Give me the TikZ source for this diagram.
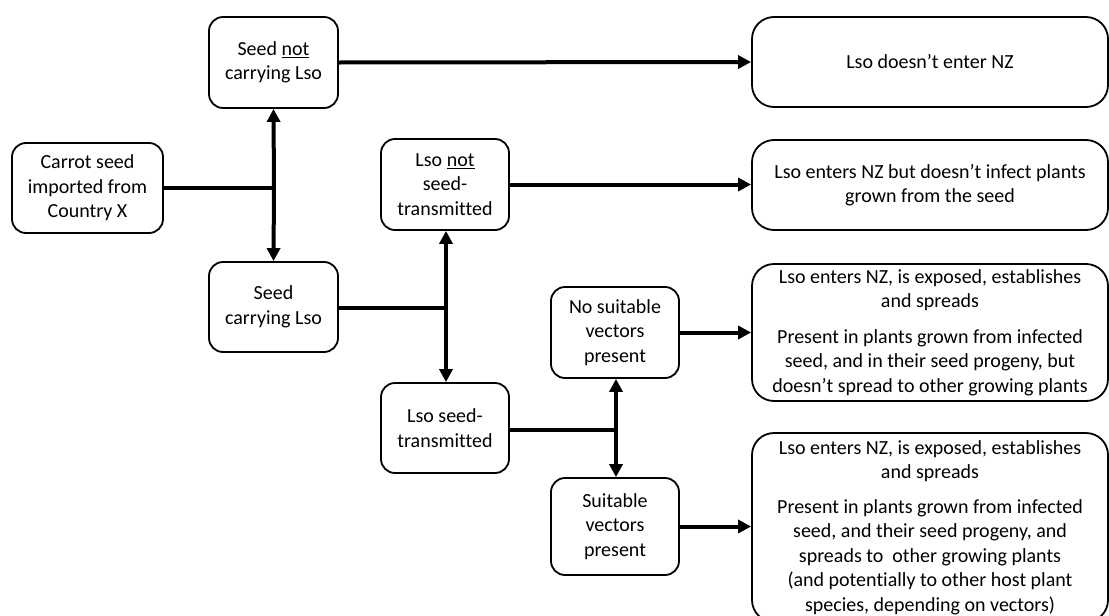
\documentclass[tikz,border=0pt]{standalone}
\usepackage{fontspec}
\setmainfont{Carlito}[Ligatures=NoCommon]
\usetikzlibrary{arrows.meta}
\begin{document}
\begin{tikzpicture}[x=1pt,y=-1pt,
  box/.style={draw, line width=1.8pt, rounded corners=14pt, inner sep=0pt, align=center,
    font=\fontsize{20}{24.5}\selectfont},
  bigbox/.style={box, rounded corners=22pt, minimum width=356pt},
  conn/.style={line width=4pt},
  arr/.style={line width=4pt, -{Triangle[length=13pt,width=13pt]}}]
\useasboundingbox (0,0) rectangle (1109,616);
\fill[white] (0,0) rectangle (1109,616);
% left column
\node[box, minimum width=151pt, minimum height=90pt] (carrot) at (87.5,188) {Carrot seed\\imported from\\Country X};
\node[box, minimum width=129pt, minimum height=91pt] (snc) at (273.5,62.5) {Seed \underline{not}\\carrying Lso};
\node[box, minimum width=129pt, minimum height=90pt] (sc) at (273.5,307) {Seed\\carrying Lso};
% middle column
\node[box, minimum width=128pt, minimum height=91pt] (lns) at (445,184.5) {Lso \underline{not}\\seed-\\transmitted};
\node[box, minimum width=128pt, minimum height=90pt] (lst) at (445,428) {Lso seed-\\transmitted};
% vectors column
\node[box, minimum width=128pt, minimum height=91pt] (nsv) at (615,332.5) {No suitable\\vectors\\present};
\node[box, minimum width=128pt, minimum height=97pt] (sv) at (615,526.5) {Suitable\\vectors\\present};
% outcomes
\node[bigbox, minimum height=90pt] (o1) at (930,62) {Lso doesn’t enter NZ};
\node[bigbox, minimum height=90pt] (o2) at (930,185) {Lso enters NZ but doesn’t infect plants\\grown from the seed};
\node[bigbox, minimum height=137pt] (o3) at (930,332.5) {Lso enters NZ, is exposed, establishes\\and spreads\\[11pt]Present in plants grown from infected\\seed, and in their seed progeny, but\\doesn’t spread to other growing plants};
\node[bigbox, minimum height=189pt] (o4) at (930,527.5) {Lso enters NZ, is exposed, establishes\\and spreads\\[10pt]Present in plants grown from infected\\seed, and their seed progeny, and\\spreads to\ \ other growing plants\\(and potentially to other host plant\\species, depending on vectors)};
% junctions
\coordinate (j1) at (274,188);
\coordinate (j2) at (446,308);
\coordinate (j3) at (616,430);
% connectors
\draw[conn] (carrot.east) -- (j1);
\draw[arr] (j1) -- (snc.south);
\draw[arr] (j1) -- (sc.north);
\draw[arr] (snc.east) -- (o1.west);
\draw[conn] (sc.east |- j2) -- (j2);
\draw[arr] (j2) -- (lns.south -| j2);
\draw[arr] (j2) -- (lst.north -| j2);
\draw[arr] (lns.east) -- (o2.west |- lns.east);
\draw[conn] (lst.east |- j3) -- (j3);
\draw[arr] (j3) -- (nsv.south -| j3);
\draw[arr] (j3) -- (sv.north -| j3);
\draw[arr] (nsv.east) -- (o3.west |- nsv.east);
\draw[arr] (sv.east) -- (o4.west |- sv.east);
\end{tikzpicture}
\end{document}
